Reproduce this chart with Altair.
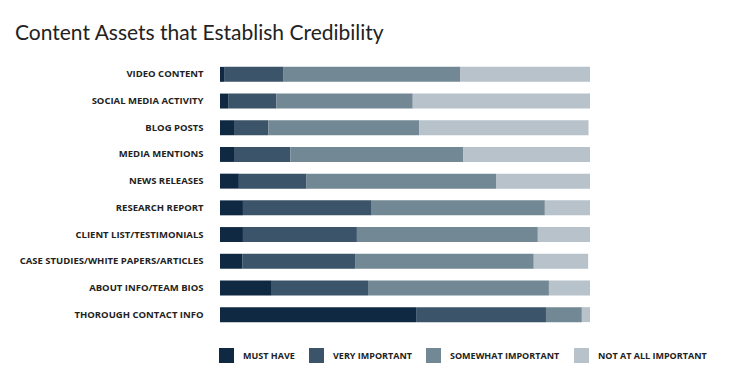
import altair as alt
import pandas as pd

categories = [
    "VIDEO CONTENT",
    "SOCIAL MEDIA ACTIVITY",
    "BLOG POSTS",
    "MEDIA MENTIONS",
    "NEWS RELEASES",
    "RESEARCH REPORT",
    "CLIENT LIST/TESTIMONIALS",
    "CASE STUDIES/WHITE PAPERS/ARTICLES",
    "ABOUT INFO/TEAM BIOS",
    "THOROUGH CONTACT INFO",
]
levels = ["MUST HAVE", "VERY IMPORTANT", "SOMEWHAT IMPORTANT", "NOT AT ALL IMPORTANT"]
must_have = [1.1, 2.2, 4, 4, 5.1, 6.2, 6.2, 6, 14, 53]
very_important = [16.1, 13, 9.1, 15, 18.3, 34.8, 30.8, 30.5, 26, 35.1]
somewhat_important = [47.8, 36.9, 40.8, 46.8, 51.2, 46.8, 48.9, 48.3, 48.9, 9.7]
not_at_all = [35, 47.9, 45.7, 34.2, 25.4, 12.2, 14.1, 14.7, 11.1, 2.2]
colors = ["#0f2942", "#3b5469", "#738895", "#b7c2cb"]

series = [must_have, very_important, somewhat_important, not_at_all]
rows = []
for li, (lvl, vals) in enumerate(zip(levels, series)):
    for cat, v in zip(categories, vals):
        rows.append({"category": cat, "level": lvl, "value": v, "order": li})
df = pd.DataFrame(rows)

chart = alt.Chart(df).mark_bar().encode(
    y=alt.Y("category:N", sort=categories, title=None,
            scale=alt.Scale(paddingInner=0.44, paddingOuter=0.22),
            axis=alt.Axis(domain=False, ticks=False, labelPadding=17,
                          labelFont="Open Sans", labelFontWeight="bold",
                          labelFontSize=9.5, labelColor="#222222", labelLimit=300)),
    x=alt.X("value:Q", stack="zero", title=None,
            scale=alt.Scale(domain=[0, 100], nice=False, zero=True),
            axis=None),
    color=alt.Color("level:N", sort=levels,
                    scale=alt.Scale(domain=levels, range=colors),
                    legend=alt.Legend(title=None, orient="none", legendX=-1, legendY=287,
                                      direction="horizontal", columns=4,
                                      columnPadding=14, labelOffset=9,
                                      symbolType="square", symbolSize=225,
                                      symbolStrokeWidth=0, symbolOpacity=1,
                                      labelFont="Open Sans", labelFontWeight="bold",
                                      labelFontSize=9, labelColor="#222222",
                                      labelLimit=300)),
    order=alt.Order("order:Q"),
).properties(
    width=370,
    height=267,
    padding={"left": 212, "top": 53, "right": 135, "bottom": 38},
    autosize=alt.AutoSizeParams(type="none"),
    title=alt.TitleParams("Content Assets that Establish Credibility",
                          anchor="start", frame="group", dx=-205, offset=0,
                          baseline="alphabetic", font="Lato", fontSize=21,
                          fontWeight="normal", color="#222222"),
).configure_view(stroke=None)

chart.save("out.html", embed_options={"renderer": "svg", "actions": False})
